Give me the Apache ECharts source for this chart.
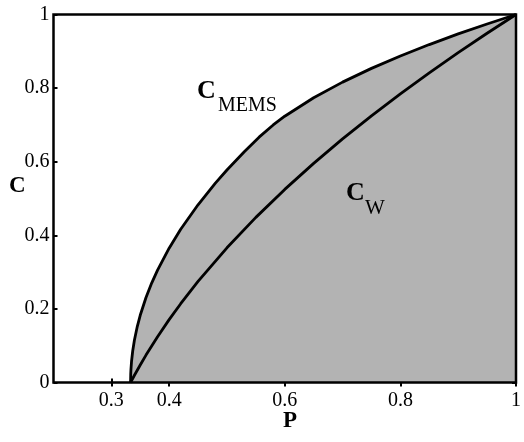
<!DOCTYPE html>
<html><head><meta charset="utf-8">
<script src="https://cdn.jsdelivr.net/npm/echarts@6/dist/echarts.min.js"></script>
<style>html,body{margin:0;padding:0;background:#fff}#c{width:524px;height:442px}</style>
</head><body><div id="c"></div>
<script>
// Purity P (x) and concurrence C (y)
const pMEMS = [0.3333, 0.3336, 0.334, 0.335, 0.337, 0.34, 0.345, 0.35, 0.36, 0.37, 0.38, 0.40, 0.42, 0.45, 0.48, 0.50, 0.53, 0.5556, 0.58, 0.60, 0.65, 0.70, 0.75, 0.80, 0.85, 0.90, 0.95, 1.0];
const cMEMS = [0, 0.023, 0.0365, 0.0577, 0.0856, 0.1155, 0.1528, 0.1826, 0.2309, 0.2708, 0.3055, 0.3651, 0.4163, 0.4830, 0.5416, 0.5774, 0.6272, 0.6667, 0.6998, 0.7236, 0.7739, 0.8162, 0.8536, 0.8873, 0.9183, 0.9472, 0.9743, 1.0];
const pW = [0.3333, 0.34, 0.35, 0.36, 0.38, 0.40, 0.42, 0.45, 0.50, 0.55, 0.60, 0.65, 0.70, 0.75, 0.80, 0.85, 0.90, 0.95, 1.0];
const cW = [0, 0.0196, 0.0477, 0.0745, 0.1245, 0.1708, 0.2141, 0.2746, 0.3660, 0.4487, 0.5247, 0.5954, 0.6619, 0.7247, 0.7845, 0.8416, 0.8964, 0.9491, 1.0];
const xTicks = [0.3, 0.4, 0.6, 0.8, 1];
const xRange = [0.2, 1];
const yRange = [0, 1];
const yStep = 0.2;

const serif = '"Liberation Serif", "DejaVu Serif", serif';
const chart = echarts.init(document.getElementById('c'));
const zip = (a, b) => a.map((v, i) => [v, b[i]]);

chart.setOption({
  animation: false,
  backgroundColor: '#fff',
  grid: { left: 53.5, right: 3, top: 14.5, bottom: 59.5 },
  xAxis: [
    { type: 'value', position: 'bottom', min: xRange[0], max: xRange[1],
      axisLine: { show: false }, splitLine: { show: false },
      axisTick: { show: true, inside: true, length: 4, customValues: xTicks, lineStyle: { color: '#000', width: 2 } },
      axisLabel: { customValues: xTicks, color: '#000', fontFamily: serif, fontSize: 20, margin: 8 } },
    { type: 'value', position: 'top', min: xRange[0], max: xRange[1],
      axisLine: { show: false }, splitLine: { show: false },
      axisTick: { show: true, inside: true, length: 4, customValues: xTicks, lineStyle: { color: '#000', width: 2 } },
      axisLabel: { show: false } }
  ],
  yAxis: [
    { type: 'value', position: 'left', min: yRange[0], max: yRange[1], interval: yStep,
      axisLine: { show: false }, splitLine: { show: false },
      axisTick: { show: true, inside: true, length: 4, lineStyle: { color: '#000', width: 2 } },
      axisLabel: { color: '#000', fontFamily: serif, fontSize: 20, margin: 4 } },
    { type: 'value', position: 'right', min: yRange[0], max: yRange[1], interval: yStep,
      axisLine: { show: false }, splitLine: { show: false },
      axisTick: { show: true, inside: true, length: 4, lineStyle: { color: '#000', width: 2 } },
      axisLabel: { show: false } }
  ],
  series: [
    { type: 'line', name: 'C_MEMS', data: zip(pMEMS, cMEMS), showSymbol: false, symbol: 'none',
      lineStyle: { color: '#000', width: 2.8 }, areaStyle: { color: '#b3b3b3', opacity: 1, origin: 'start' }, z: 2 },
    { type: 'line', name: 'C_W', data: zip(pW, cW), showSymbol: false, symbol: 'none',
      lineStyle: { color: '#000', width: 2.8 }, z: 3 }
  ],
  graphic: [
    { type: 'text', x: 197, y: 78, z: 50, style: { text: 'C', font: 'bold 26px ' + serif, fill: '#000' } },
    { type: 'text', x: 218, y: 96, z: 50, style: { text: 'MEMS', font: '20px ' + serif, fill: '#000' } },
    { type: 'text', x: 346, y: 180, z: 50, style: { text: 'C', font: 'bold 26px ' + serif, fill: '#000' } },
    { type: 'text', x: 365, y: 198, z: 50, style: { text: 'W', font: '21px ' + serif, fill: '#000' } },
    { type: 'text', x: 9, y: 175, z: 50, style: { text: 'C', font: 'bold 23px ' + serif, fill: '#000' } },
    { type: 'text', x: 290, y: 410, z: 50, style: { text: 'P', font: 'bold 23px ' + serif, fill: '#000', align: 'center' } }
  ]
});

const tl = chart.convertToPixel({ gridIndex: 0 }, [xRange[0], yRange[1]]);
const br = chart.convertToPixel({ gridIndex: 0 }, [xRange[1], yRange[0]]);
chart.setOption({
  graphic: [
    { id: 'frame', type: 'rect', z: 100, silent: true,
      shape: { x: tl[0], y: tl[1], width: br[0] - tl[0], height: br[1] - tl[1] },
      style: { fill: 'none', stroke: '#000', lineWidth: 2.5 } }
  ]
});
</script>
</body></html>
